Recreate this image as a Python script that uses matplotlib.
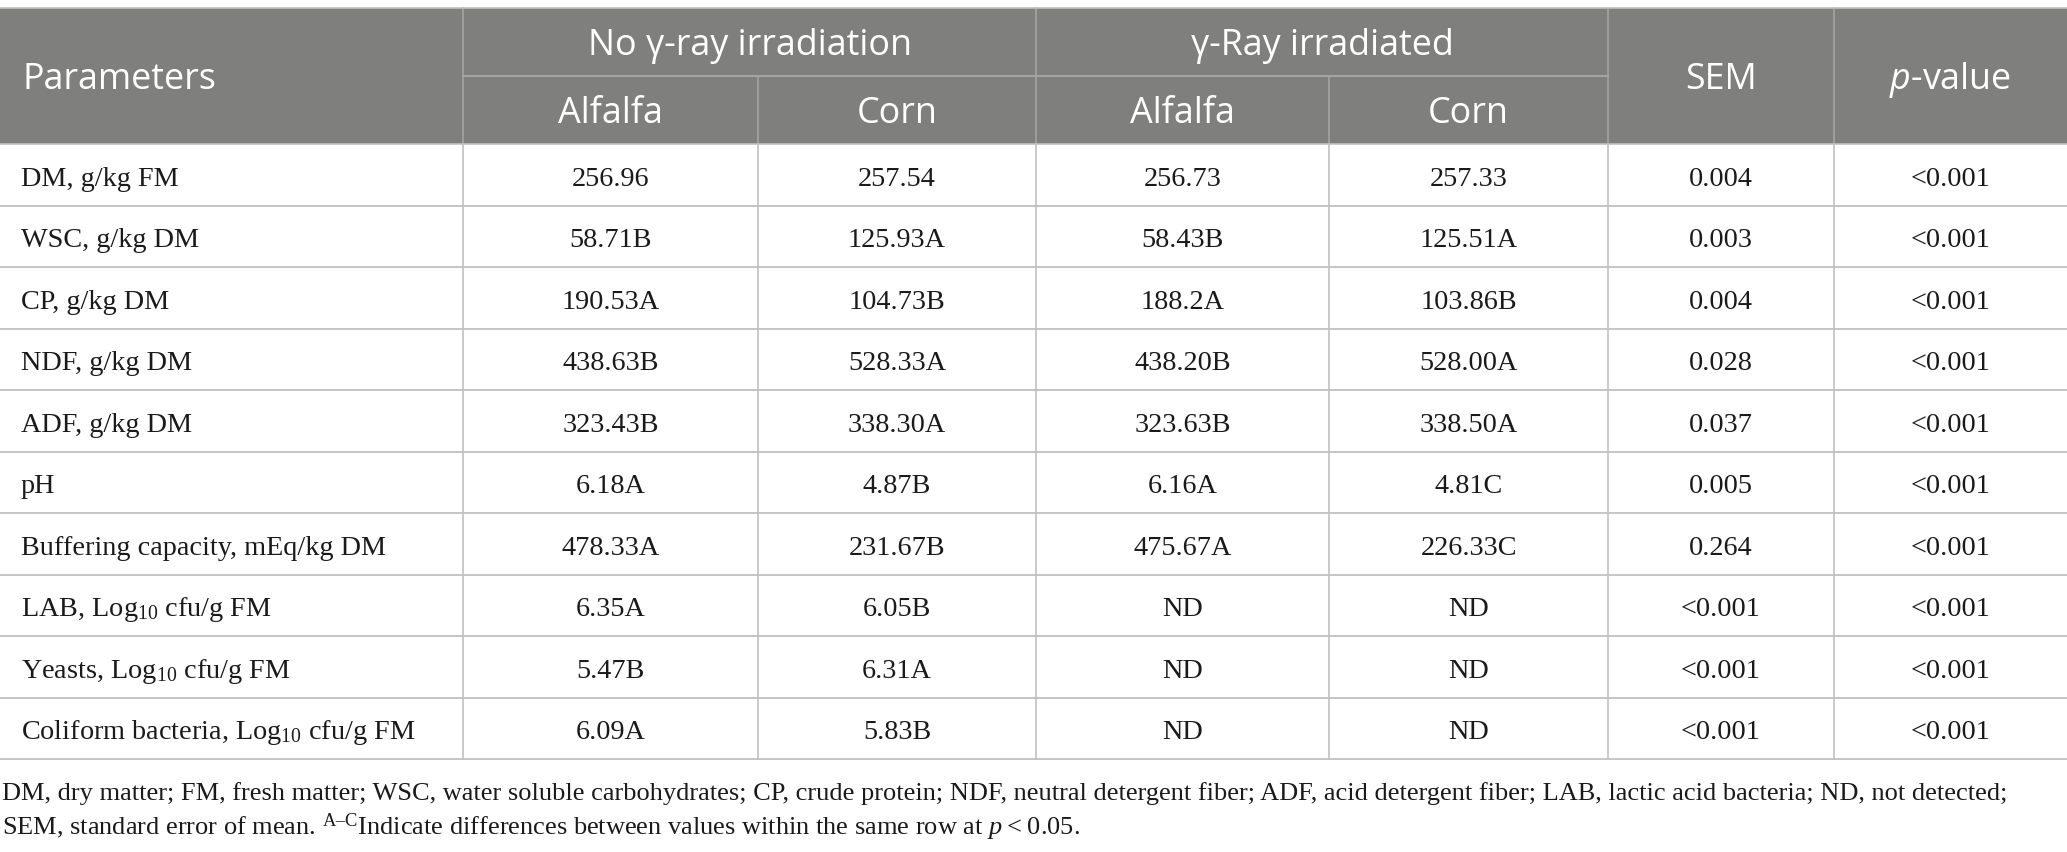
import matplotlib
matplotlib.use("Agg")
import matplotlib.pyplot as plt
from matplotlib.patches import Rectangle

# ---------------- data ----------------
parameters = [
    "DM, g/kg FM",
    "WSC, g/kg DM",
    "CP, g/kg DM",
    "NDF, g/kg DM",
    "ADF, g/kg DM",
    "pH",
    "Buffering capacity, mEq/kg DM",
    "LAB, Log$_{10}$ cfu/g FM",
    "Yeasts, Log$_{10}$ cfu/g FM",
    "Coliform bacteria, Log$_{10}$ cfu/g FM",
]
no_irr_alfalfa = ["256.96", "58.71B", "190.53A", "438.63B", "323.43B", "6.18A",
                  "478.33A", "6.35A", "5.47B", "6.09A"]
no_irr_corn = ["257.54", "125.93A", "104.73B", "528.33A", "338.30A", "4.87B",
               "231.67B", "6.05B", "6.31A", "5.83B"]
irr_alfalfa = ["256.73", "58.43B", "188.2A", "438.20B", "323.63B", "6.16A",
               "475.67A", "ND", "ND", "ND"]
irr_corn = ["257.33", "125.51A", "103.86B", "528.00A", "338.50A", "4.81C",
            "226.33C", "ND", "ND", "ND"]
sem = ["0.004", "0.003", "0.004", "0.028", "0.037", "0.005", "0.264",
       "<0.001", "<0.001", "<0.001"]
p_value = ["<0.001"] * 10

group_headers = ["No \u03b3-ray irradiation", "\u03b3-Ray irradiated"]
sub_headers = ["Alfalfa", "Corn", "Alfalfa", "Corn"]
footnote_lines = [
    "DM, dry matter; FM, fresh matter; WSC, water soluble carbohydrates; CP, crude protein; "
    "NDF, neutral detergent fiber; ADF, acid detergent fiber; LAB, lactic acid bacteria; ND, not detected;",
    "SEM, standard error of mean. $^{\\mathrm{A\u2013C}}$Indicate differences between values "
    "within the same row at $p$\u2009<\u20090.05.",
]

# ---------------- style ----------------
plt.rcParams["mathtext.fontset"] = "custom"
plt.rcParams["mathtext.rm"] = "Liberation Serif"
plt.rcParams["mathtext.it"] = "Liberation Serif:italic"
plt.rcParams["mathtext.sf"] = "Open Sans:italic"

W, H = 2067, 853
fig = plt.figure(figsize=(W / 100, H / 100), dpi=100)
ax = fig.add_axes([0, 0, 1, 1])
ax.set_xlim(0, W)
ax.set_ylim(H, 0)
ax.axis("off")

col_edges = [0, 463, 758, 1036, 1329, 1608, 1834, W]
top, hmid, hbot = 9, 77, 145
row_h = 61.5
n = len(parameters)
HEAD_BG = "#7f807e"
LINE = "#c0c0c0"
HLINE = "#a4a5a3"
TXT = "#1a1a1a"
SERIF = "Liberation Serif"
SANS = "Open Sans"
BFS = 20.3
FFS = 19.0
HFS = 25.8

# header background
ax.add_patch(Rectangle((0, top), W, hbot - top, facecolor=HEAD_BG, edgecolor="none", zorder=1))
ax.plot([0, W], [top - 0.5, top - 0.5], color=LINE, lw=1.2, zorder=3)
ax.plot([0, W], [hbot, hbot], color=LINE, lw=1.2, zorder=3)
# header inner lines
ax.plot([col_edges[1], col_edges[5]], [hmid, hmid], color=HLINE, lw=1.5, zorder=2)
for i in range(1, 7):
    if i in (2, 4):
        ax.plot([col_edges[i], col_edges[i]], [hmid, hbot], color=HLINE, lw=1.2, zorder=2)
    else:
        ax.plot([col_edges[i], col_edges[i]], [top, hbot], color=HLINE, lw=1.2, zorder=2)

# header texts
ax.text(22, (top + hbot) / 2 + 12, "Parameters", fontfamily=SANS, fontsize=HFS,
        color="white", ha="left", va="baseline")
for g, txt in enumerate(group_headers):
    cx = (col_edges[1 + 2 * g] + col_edges[3 + 2 * g]) / 2
    ax.text(cx, (top + hmid) / 2 + 12, txt, fontfamily=SANS, fontsize=HFS,
            color="white", ha="center", va="baseline")
for k, txt in enumerate(sub_headers):
    cx = (col_edges[1 + k] + col_edges[2 + k]) / 2
    ax.text(cx, (hmid + hbot) / 2 + 12, txt, fontfamily=SANS, fontsize=HFS,
            color="white", ha="center", va="baseline")
ax.text((col_edges[5] + col_edges[6]) / 2, (top + hbot) / 2 + 12, "SEM", fontfamily=SANS,
        fontsize=HFS, color="white", ha="center", va="baseline")
ax.text((col_edges[6] + col_edges[7]) / 2, (top + hbot) / 2 + 12, "$\\mathsf{p}$-value",
        fontfamily=SANS, fontsize=HFS, color="white", ha="center", va="baseline")

# body
columns = [no_irr_alfalfa, no_irr_corn, irr_alfalfa, irr_corn, sem, p_value]
bottom = hbot + n * row_h
for r in range(n):
    y0 = hbot + r * row_h
    yc = y0 + row_h / 2
    ax.plot([0, W], [y0 + row_h, y0 + row_h], color=LINE, lw=1.3, zorder=2)
    ax.text(21, yc + 10, parameters[r], fontfamily=SERIF, fontsize=BFS, color=TXT,
            ha="left", va="baseline")
    for c, vals in enumerate(columns):
        cx = (col_edges[1 + c] + col_edges[2 + c]) / 2
        ax.text(cx, yc + 10, vals[r], fontfamily=SERIF, fontsize=BFS, color=TXT,
                ha="center", va="baseline")
for i in range(1, 7):
    ax.plot([col_edges[i], col_edges[i]], [hbot, bottom], color=LINE, lw=1.2, zorder=2)

# footnote
ax.text(2, 800, footnote_lines[0], fontfamily=SERIF, fontsize=FFS, color=TXT,
        ha="left", va="baseline")
ax.text(2, 835, footnote_lines[1], fontfamily=SERIF, fontsize=FFS, color=TXT,
        ha="left", va="baseline")

fig.savefig("out.png", dpi=100, facecolor="white")
